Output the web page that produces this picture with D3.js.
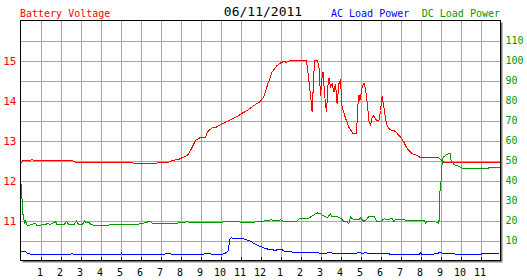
<!DOCTYPE html>
<html>
<head>
<meta charset="utf-8">
<script src="https://cdn.jsdelivr.net/npm/d3@7"></script>
<style>
  body { margin: 0; background: #fff; }
  svg { display: block; }
  text { font-family: "DejaVu Sans Mono", monospace; }
</style>
</head>
<body>
<svg class="chart" width="527" height="280"></svg>
<script>
const chartDate = "06/11/2011";
const hourTicks = d3.range(1, 24);
const hourLabels = ["1","2","3","4","5","6","7","8","9","10","11","12","1","2","3","4","5","6","7","8","9","10","11"];
const voltTicks = [11, 12, 13, 14, 15];
const powerTicks = [10, 20, 30, 40, 50, 60, 70, 80, 90, 100, 110];

// [hour of day, volts]
const batteryVoltage = [
  [0.05,12.43],[0.12,12.5],[0.5,12.5],[0.58,12.53],[0.67,12.5],[2.58,12.5],[2.75,12.45],[5.58,12.45],
  [5.67,12.42],[6.75,12.42],[6.83,12.44],[7.42,12.46],[7.58,12.5],[7.92,12.53],[8.08,12.57],[8.25,12.6],
  [8.38,12.65],[8.5,12.75],[8.75,13.0],[9.0,13.08],[9.25,13.08],[9.33,13.2],[9.58,13.32],[9.75,13.32],
  [9.92,13.375],[10.25,13.46],[10.5,13.52],[10.83,13.6],[11.08,13.68],[11.33,13.75],[11.67,13.875],[12.0,13.98],
  [12.17,14.1],[12.37,14.42],[12.58,14.71],[12.83,14.875],[13.0,14.94],[13.17,14.98],[13.3,14.95],[13.47,15.0],
  [14.3,15.0],[14.38,14.67],[14.47,14.25],[14.53,14.0],[14.58,13.71],[14.63,14.25],[14.7,15.0],[14.83,15.0],
  [14.92,14.875],[15.0,14.125],[15.08,14.58],[15.13,14.71],[15.2,14.17],[15.3,13.71],[15.38,14.42],[15.43,14.57],
  [15.5,14.33],[15.58,14.42],[15.67,14.21],[15.75,14.42],[15.83,13.92],[15.92,14.42],[16.0,14.5],[16.08,13.83],
  [16.25,13.56],[16.42,13.33],[16.63,13.17],[16.8,13.17],[16.87,13.875],[16.92,14.14],[16.97,14.0],[17.03,14.17],
  [17.08,14.33],[17.17,14.44],[17.25,14.29],[17.33,13.96],[17.42,13.5],[17.5,13.375],[17.58,13.58],[17.67,13.625],
  [17.8,13.5],[17.92,13.5],[18.0,13.75],[18.08,14.1],[18.17,13.83],[18.25,13.54],[18.33,13.375],[18.47,13.27],
  [18.75,13.23],[18.92,13.125],[19.08,13.04],[19.33,12.8],[19.58,12.67],[19.83,12.625],[20.0,12.57],[20.92,12.57],
  [21.08,12.48],[21.25,12.44],[23.95,12.44]
];

// [hour of day, watts]
const acLoadPower = [
  [0.03,4.7],[0.2,4.7],[0.33,3.8],[0.58,2.8],[1.0,3.0],[1.5,3.0],[2.33,3.0],[2.58,3.3],[2.83,3.0],[5.0,3.0],
  [5.05,3.7],[5.1,2.8],[7.5,3.3],[7.6,3.0],[9.5,3.3],[9.65,3.0],[10.08,3.0],[10.25,3.7],[10.38,4.7],[10.47,10.8],
  [10.53,11.3],[10.83,10.8],[11.17,10.8],[11.33,10.3],[11.5,9.7],[11.75,8.0],[12.0,7.0],[12.17,6.3],[12.33,5.8],
  [12.5,5.3],[12.58,5.8],[12.67,5.0],[12.83,5.3],[13.08,5.5],[13.17,4.7],[13.5,4.3],[13.83,4.0],[14.17,4.2],
  [14.5,4.0],[14.83,4.2],[15.0,3.5],[15.33,3.7],[15.42,4.0],[15.58,3.7],[16.0,3.7],[16.33,3.3],[16.83,3.7],
  [16.92,4.2],[17.08,3.5],[17.25,4.0],[17.42,3.5],[18.33,3.3],[19.0,3.0],[19.92,3.0],[20.0,3.7],[20.08,3.0],
  [20.83,3.3],[20.97,4.2],[21.08,3.7],[21.63,3.7],[21.75,3.0],[23.0,3.0],[23.13,3.7],[23.92,3.7]
];

// [hour of day, watts]
const dcLoadPower = [
  [0.03,38.3],[0.12,23.3],[0.2,18.7],[0.25,19.7],[0.33,17.5],[0.5,17.8],[0.75,18.7],[0.83,17.5],[1.08,17.8],
  [1.25,17.8],[1.33,18.7],[1.5,18.0],[1.75,19.5],[1.83,17.8],[2.17,17.8],[2.3,19.5],[2.42,17.8],[2.67,17.8],
  [2.8,19.7],[2.92,17.8],[3.08,17.8],[3.2,19.7],[3.3,18.8],[3.42,19.2],[3.53,17.8],[4.0,17.5],[4.5,17.8],
  [5.0,17.8],[5.5,18.0],[6.0,18.3],[6.17,18.7],[6.5,19.7],[6.58,18.7],[7.83,18.7],[8.0,19.0],[8.33,19.3],
  [8.58,18.8],[8.83,19.2],[9.0,18.8],[9.33,18.8],[10.0,19.0],[10.33,19.7],[10.83,19.7],[11.0,19.2],[11.67,19.2],
  [12.0,19.5],[12.5,20.3],[12.83,20.0],[13.0,20.3],[13.17,19.5],[13.33,19.7],[13.8,19.5],[13.92,20.8],[14.17,21.2],
  [14.42,21.2],[14.67,22.8],[14.83,23.8],[15.0,23.3],[15.17,22.3],[15.33,21.3],[15.5,23.3],[15.58,21.7],[15.75,22.2],
  [16.0,21.2],[16.17,19.5],[16.33,19.5],[16.42,18.3],[16.5,22.0],[16.58,20.8],[16.92,20.5],[17.0,21.3],[17.17,19.5],
  [17.33,20.8],[17.42,22.0],[17.67,22.2],[17.8,19.7],[18.0,19.5],[18.17,20.8],[18.42,20.5],[18.58,21.2],[18.67,19.2],
  [18.75,20.5],[19.17,20.5],[19.25,20.2],[20.17,20.2],[20.25,18.8],[20.33,19.5],[20.83,19.2],[20.92,18.3],[20.97,34.0],
  [21.03,40.0],[21.08,48.3],[21.13,51.7],[21.25,52.5],[21.37,53.3],[21.5,53.3],[21.53,50.0],[21.67,48.0],[22.0,46.7],
  [22.08,46.2],[22.42,46.2],[22.5,45.8],[23.25,45.8],[23.42,46.3],[23.95,46.3]
];

const margin = { top: 20, right: 27, bottom: 20, left: 20 };
const width = 527 - margin.left - margin.right;
const height = 280 - margin.top - margin.bottom;

const svg = d3.select("svg.chart");
const g = svg.append("g")
  .attr("transform", "translate(" + (margin.left + 0.5) + "," + (margin.top + 0.5) + ")");

const x = d3.scaleLinear().domain([0, 24]).range([0, width]);
const yVolt = d3.scaleLinear().domain([10, 16]).range([height, 0]);
const yPower = d3.scaleLinear().domain([0, 120]).range([height, 0]);

// drop shadow + plot background
g.append("rect")
  .attr("x", 2).attr("y", 2)
  .attr("width", width).attr("height", height)
  .attr("fill", "#7a7a7a");
g.append("rect")
  .attr("width", width).attr("height", height)
  .attr("fill", "#fff");

// grid
g.append("g")
  .attr("class", "grid")
  .call(d3.axisLeft(yPower).tickValues(powerTicks).tickSize(-width).tickFormat(""))
  .call(s => s.select(".domain").remove())
  .selectAll("line").attr("stroke", "#a6a6a6").attr("shape-rendering", "crispEdges");

g.append("g")
  .attr("class", "grid")
  .attr("transform", "translate(0," + height + ")")
  .call(d3.axisBottom(x).tickValues(hourTicks).tickSize(-height).tickFormat(""))
  .call(s => s.select(".domain").remove())
  .selectAll("line").attr("stroke", "#a6a6a6").attr("shape-rendering", "crispEdges");

// short black hour ticks along the bottom
g.append("g")
  .attr("transform", "translate(0," + height + ")")
  .call(d3.axisBottom(x).tickValues(hourTicks).tickSize(-4).tickFormat(""))
  .call(s => s.select(".domain").remove())
  .selectAll("line").attr("stroke", "#000").attr("shape-rendering", "crispEdges");

// series
const series = [
  { data: dcLoadPower, y: yPower, color: "#009900" },
  { data: acLoadPower, y: yPower, color: "#0000ff" },
  { data: batteryVoltage, y: yVolt, color: "#ff0000" }
];

series.forEach(s => {
  const line = d3.line()
    .x(d => x(d[0]))
    .y(d => s.y(d[1]));
  g.append("path")
    .datum(s.data)
    .attr("fill", "none")
    .attr("stroke", s.color)
    .attr("stroke-width", 1)
    .attr("shape-rendering", "crispEdges")
    .attr("d", line);
});

// frame
g.append("rect")
  .attr("width", width).attr("height", height)
  .attr("fill", "none")
  .attr("stroke", "#000")
  .attr("shape-rendering", "crispEdges");

// axes labels
g.append("g")
  .attr("transform", "translate(-1," + height + ")")
  .call(d3.axisBottom(x).tickValues(hourTicks).tickFormat((d, i) => hourLabels[i]).tickSize(0).tickPadding(8))
  .call(s => s.select(".domain").remove())
  .selectAll("text")
  .attr("fill", "#000")
  .style("font-family", "DejaVu Sans Mono")
  .style("font-size", "10px");

g.append("g")
  .call(d3.axisLeft(yVolt).tickValues(voltTicks).tickFormat(d3.format("d")).tickSize(0).tickPadding(4))
  .call(s => s.select(".domain").remove())
  .selectAll("text")
  .attr("fill", "#ff0000")
  .style("font-family", "DejaVu Sans Mono")
  .style("font-size", "11px");

g.append("g")
  .attr("transform", "translate(" + width + ",0)")
  .call(d3.axisRight(yPower).tickValues(powerTicks).tickFormat(d3.format("d")).tickSize(0).tickPadding(5))
  .call(s => s.select(".domain").remove())
  .selectAll("text")
  .attr("fill", "#009900")
  .style("font-family", "DejaVu Sans Mono")
  .style("font-size", "10px");

// header
svg.append("text")
  .attr("x", 263).attr("y", 16)
  .attr("text-anchor", "middle")
  .style("font-size", "13px")
  .attr("fill", "#000")
  .text(chartDate);

svg.append("text")
  .attr("x", 20).attr("y", 17)
  .style("font-size", "10px")
  .attr("fill", "#ff0000")
  .text("Battery Voltage");

svg.append("text")
  .attr("x", 331).attr("y", 17)
  .style("font-size", "10px")
  .attr("fill", "#0000ff")
  .text("AC Load Power");

svg.append("text")
  .attr("x", 500).attr("y", 17)
  .attr("text-anchor", "end")
  .style("font-size", "10px")
  .attr("fill", "#009900")
  .text("DC Load Power");
</script>
</body>
</html>
